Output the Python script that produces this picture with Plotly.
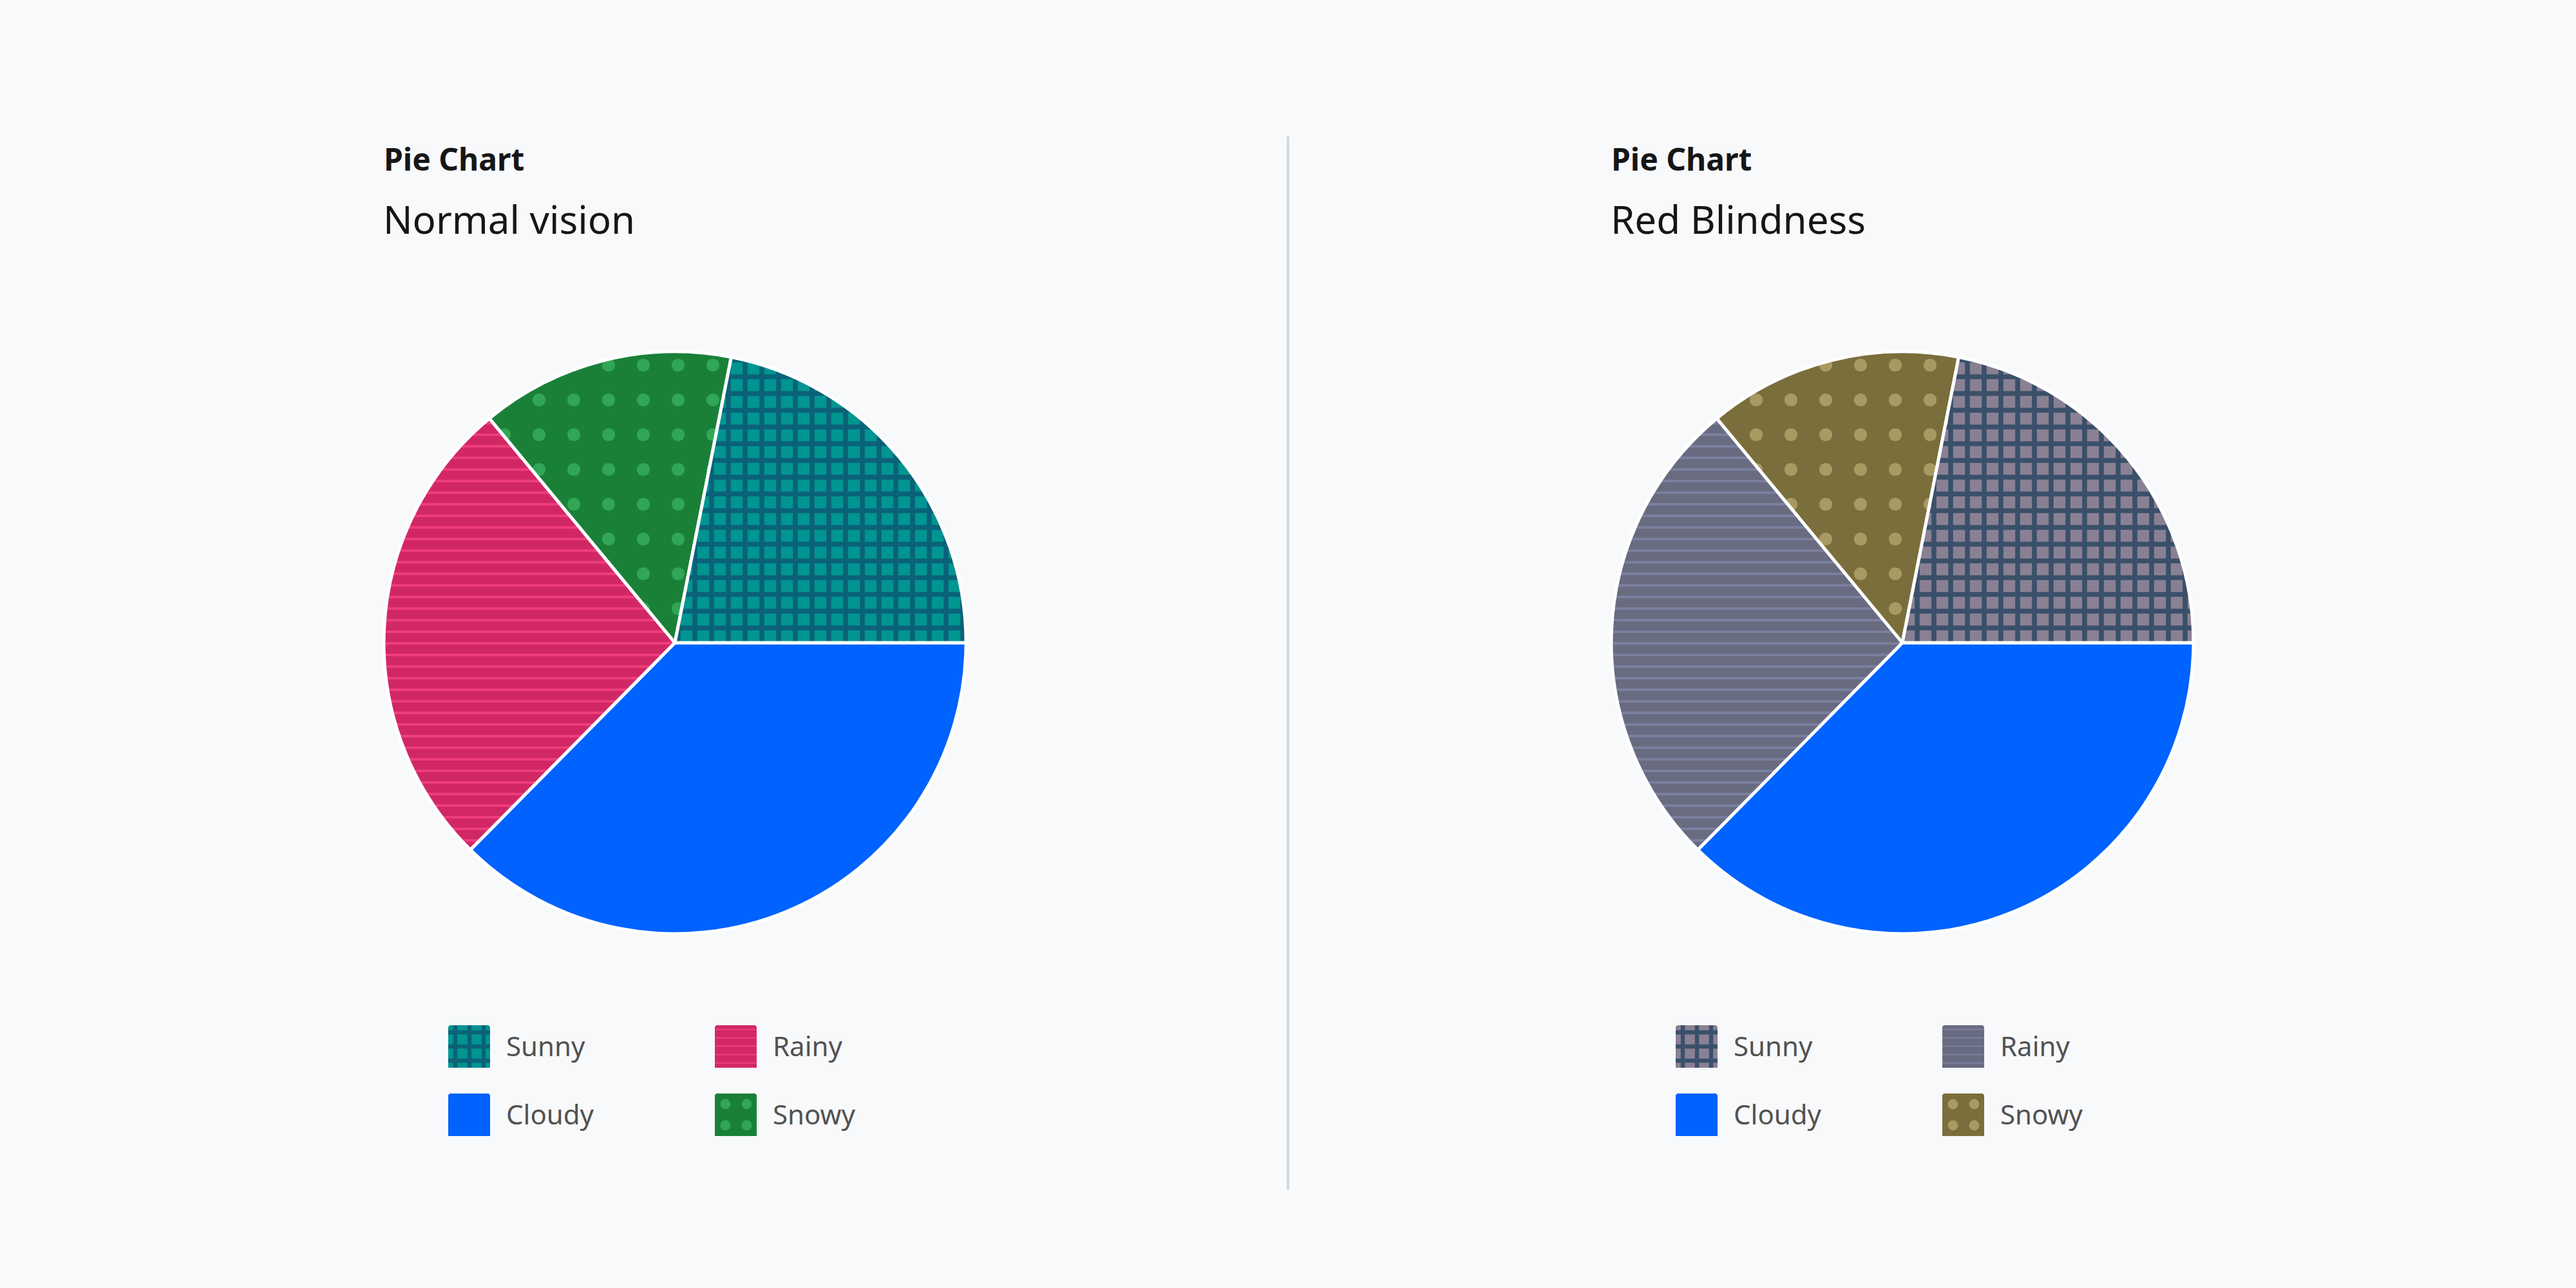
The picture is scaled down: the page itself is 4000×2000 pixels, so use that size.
import plotly.graph_objects as go

# ---------------- data ----------------
categories = ["Cloudy", "Rainy", "Snowy", "Sunny"]      # clockwise from 3 o'clock
values = [37.4, 26.6, 14.1, 21.9]
legend_rows = [["Sunny", "Rainy"], ["Cloudy", "Snowy"]]

panel_titles = ["Pie Chart", "Pie Chart"]
panel_subtitles = ["Normal vision", "Red Blindness"]

# (background colour, pattern colour) per category, per vision mode
normal_colors = {
    "Sunny": ("#009591", "#0a6278"),
    "Cloudy": ("#0062ff", "#0062ff"),
    "Rainy": ("#d12865", "#ee3d7b"),
    "Snowy": ("#1a8038", "#30a656"),
}
red_colors = {
    "Sunny": ("#8a8094", "#3a506a"),
    "Cloudy": ("#0062ff", "#0062ff"),
    "Rainy": ("#696b80", "#7a7f9e"),
    "Snowy": ("#7a6e3c", "#a89a62"),
}
palettes = [normal_colors, red_colors]

# pattern styles: (shape, size, solidity)
pie_patterns = {"Sunny": ("+", 26, 0.5), "Cloudy": ("", 10, 0.3),
                "Rainy": ("-", 18, 0.22), "Snowy": (".", 54, 0.11)}
legend_patterns = {"Sunny": ("+", 22, 0.5), "Cloudy": ("", 10, 0.3),
                   "Rainy": ("-", 13, 0.16), "Snowy": (".", 33, 0.18)}

# ---------------- layout geometry (pixels) ----------------
W, H = 4000, 2000
BG = "#f8f9fb"
FONT = "Noto Sans"
panel_dx = 1906
pie_cx, pie_cy, pie_r = 1048, 998, 452
title_x = 598
title_cy, subtitle_cy = 246, 340
sw_w, sw_h = 65, 66
sw_cols_x = [696, 1110]
sw_rows_y = [1592, 1698]
text_gap = 88


def px_x(x):
    return x / W


def px_y(y):
    return 1 - y / H


fig = go.Figure()
annotations = []
layout_axes = {}
axis_n = 1

for p in range(2):
    pal = palettes[p]
    dx = p * panel_dx
    cx = pie_cx + dx
    fig.add_trace(go.Pie(
        labels=categories,
        values=values,
        sort=False,
        direction="clockwise",
        rotation=90,
        textinfo="none",
        hoverinfo="label+value",
        showlegend=False,
        domain=dict(x=[px_x(cx - pie_r), px_x(cx + pie_r)],
                    y=[px_y(pie_cy + pie_r), px_y(pie_cy - pie_r)]),
        marker=dict(
            colors=[pal[c][0] for c in categories],
            line=dict(color="white", width=5),
            pattern=dict(
                shape=[pie_patterns[c][0] for c in categories],
                size=[pie_patterns[c][1] for c in categories],
                solidity=[pie_patterns[c][2] for c in categories],
                fgcolor=[pal[c][1] for c in categories],
                bgcolor=[pal[c][0] for c in categories],
                fillmode="replace",
            ),
        ),
    ))

    annotations.append(dict(
        text="<b>" + panel_titles[p] + "</b>", x=px_x(title_x + dx - 4), y=px_y(title_cy),
        xref="paper", yref="paper", xanchor="left", yanchor="middle", showarrow=False,
        font=dict(family=FONT, size=48, color="#161616")))
    annotations.append(dict(
        text=panel_subtitles[p], x=px_x(title_x + dx - 5), y=px_y(subtitle_cy),
        xref="paper", yref="paper", xanchor="left", yanchor="middle", showarrow=False,
        font=dict(family=FONT, size=60, color="#161616")))

    # legend: swatches drawn as single bars in tiny axes, labels as annotations
    for r, row in enumerate(legend_rows):
        for c, cat in enumerate(row):
            x0 = sw_cols_x[c] + dx
            y0 = sw_rows_y[r]
            n = axis_n
            axis_n += 1
            xa = "x" if n == 1 else f"x{n}"
            ya = "y" if n == 1 else f"y{n}"
            shape, size, sol = legend_patterns[cat]
            fig.add_trace(go.Bar(
                x=[0], y=[1], width=[1], xaxis=xa, yaxis=ya, showlegend=False,
                hoverinfo="skip",
                marker=dict(
                    color=pal[cat][0], cornerradius=4, line=dict(width=0),
                    pattern=dict(shape=shape, size=size, solidity=sol,
                                 fgcolor=pal[cat][1], bgcolor=pal[cat][0],
                                 fillmode="replace"),
                ),
            ))
            key_x = "xaxis" if n == 1 else f"xaxis{n}"
            key_y = "yaxis" if n == 1 else f"yaxis{n}"
            layout_axes[key_x] = dict(domain=[px_x(x0), px_x(x0 + sw_w)], range=[-0.5, 0.5],
                                      visible=False, fixedrange=True,
                                      anchor=ya)
            layout_axes[key_y] = dict(domain=[px_y(y0 + sw_h), px_y(y0)], range=[0, 1],
                                      visible=False, fixedrange=True,
                                      anchor=xa)
            annotations.append(dict(
                text=cat, x=px_x(x0 + text_gap), y=px_y(y0 + sw_h / 2 - 2),
                xref="paper", yref="paper", xanchor="left", yanchor="middle",
                showarrow=False, font=dict(family=FONT, size=42, color="#525252")))

fig.update_layout(
    width=W, height=H,
    margin=dict(l=0, r=0, t=0, b=0),
    paper_bgcolor=BG, plot_bgcolor=BG,
    showlegend=False,
    bargap=0,
    annotations=annotations,
    shapes=[dict(type="line", xref="paper", yref="paper",
                 x0=0.5, x1=0.5, y0=px_y(1847), y1=px_y(212),
                 line=dict(color="#d0d8dc", width=4))],
    **layout_axes,
)

fig.write_html("out.html")
